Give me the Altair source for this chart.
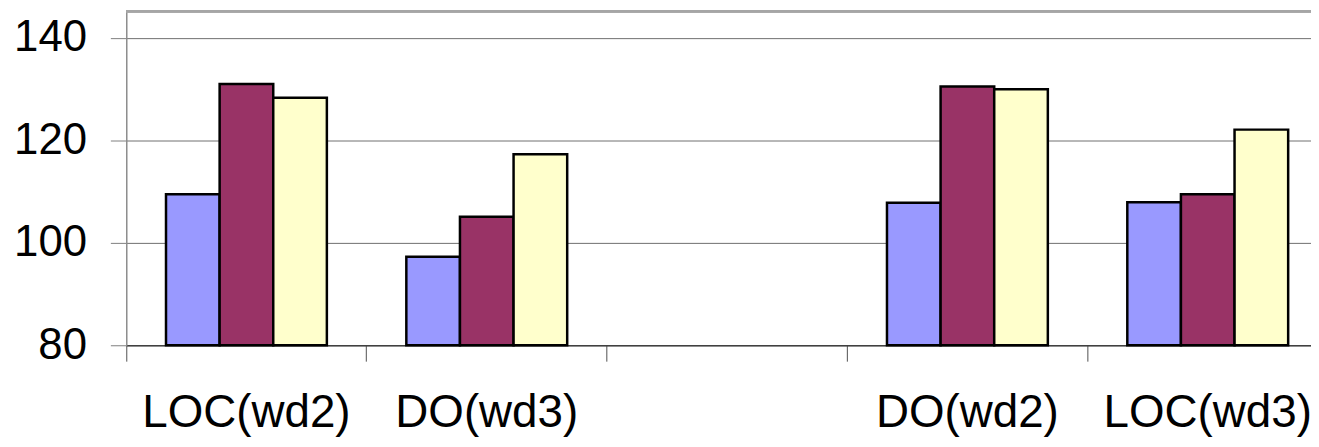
import altair as alt
import pandas as pd

categories = ["LOC(wd2)", "DO(wd3)", "", "DO(wd2)", "LOC(wd3)"]
series = ["A", "B", "C"]
vals_A = [109.5, 97.3, None, 107.8, 107.9]
vals_B = [131.0, 105.1, None, 130.5, 109.5]
vals_C = [128.3, 117.3, None, 130.0, 122.1]
colors = ["#9999FF", "#993366", "#FFFFCC"]
y_ticks = [80, 100, 120, 140]
y_min, y_max = 80, 145.2

rows = []
for s, vals in zip(series, [vals_A, vals_B, vals_C]):
    for c, v in zip(categories, vals):
        if v is not None:
            rows.append({"cat": c, "series": s, "value": v})
df = pd.DataFrame(rows)

FONT = "Liberation Sans"

x_enc = alt.X(
    "cat:N",
    sort=categories,
    scale=alt.Scale(domain=categories, range=[0, 1209], paddingInner=0, paddingOuter=0),
    axis=alt.Axis(
        title=None,
        bandPosition=0,
        tickSize=16,
        tickColor="#505050",
        domainColor="#404040",
        domainWidth=1.5,
        labelPadding=30,
        labelFont=FONT,
        labelFontSize=46,
        labelColor="black",
        labelAngle=0,
        labelLimit=0,
        labelOverlap=False,
        grid=False,
    ),
)

y_enc = alt.Y(
    "value:Q",
    scale=alt.Scale(domain=[y_min, y_max], zero=False, nice=False),
    axis=alt.Axis(
        title=None,
        values=y_ticks,
        grid=True,
        gridColor="#6f6f6f",
        gridWidth=1,
        domainColor="#8c8c8c",
        domainWidth=1.5,
        tickColor="#7f7f7f",
        tickSize=16,
        labelPadding=24,
        labelFont=FONT,
        labelFontSize=44,
        labelColor="black",
    ),
)

bars = alt.Chart(df).mark_bar(stroke="black", strokeWidth=2.5).encode(
    x=x_enc,
    xOffset=alt.XOffset("series:N", scale=alt.Scale(domain=series, paddingInner=0, paddingOuter=0.741)),
    y=y_enc,
    y2=alt.datum(y_min),
    color=alt.Color("series:N", scale=alt.Scale(domain=series, range=colors), legend=None),
)

top = alt.Chart(df).mark_rule(color="#a6a6a6", strokeWidth=2).encode(
    y=alt.datum(y_max)
)

chart = (
    alt.layer(bars, top)
    .properties(
        width=1192,
        height=336,
        autosize="none",
        padding={"left": 119, "top": 2, "right": 0, "bottom": 94},
    )
    .configure_view(stroke=None)
)

chart.save("out.html", embed_options={"renderer": "svg", "actions": False})
